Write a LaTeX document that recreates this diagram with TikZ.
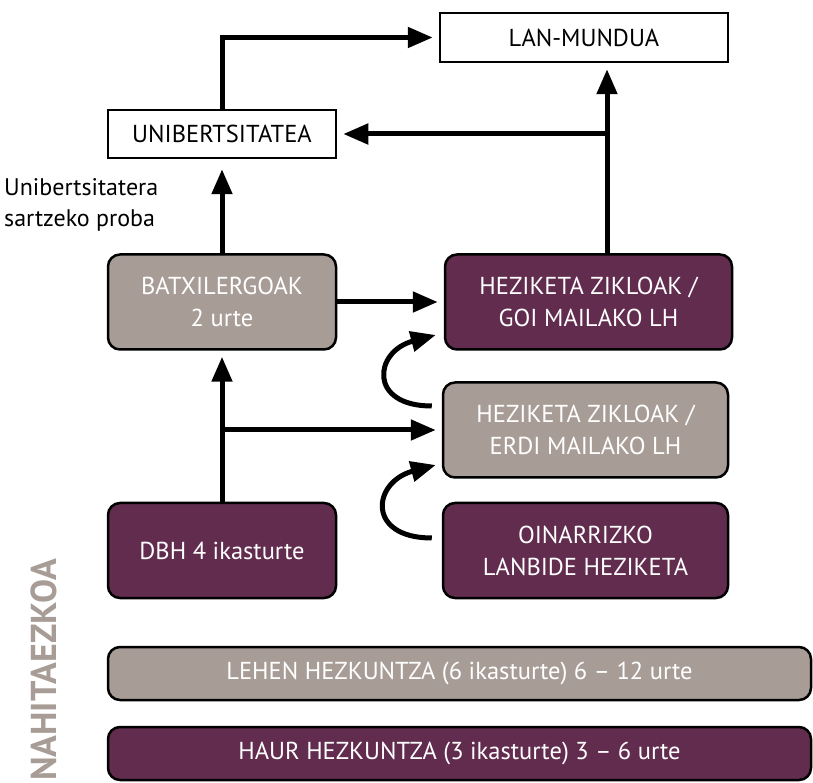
\documentclass[tikz,border=0pt]{standalone}
\usepackage{fontspec}
\setmainfont{PT Sans}
\usetikzlibrary{arrows.meta}
\definecolor{taupe}{RGB}{168,157,150}
\definecolor{plum}{RGB}{98,44,78}
\begin{document}
\begin{tikzpicture}[x=1pt, y=1pt,
    whitebox/.style={draw, line width=2.5pt, fill=white, inner sep=0pt, align=center, font=\fontsize{24.5}{32}\selectfont},
    graybox/.style={whitebox, rounded corners=12pt, fill=taupe, text=white},
    plumbox/.style={whitebox, rounded corners=12pt, fill=plum, text=white},
    arr/.style={line width=5pt, -{Triangle[length=25pt,width=20pt]}, shorten >=6pt}]
  \useasboundingbox (0,0) rectangle (813,782);
  % top row
  \node[whitebox, minimum width=288pt, minimum height=49pt] (lan) at (584,744.5) {LAN-MUNDUA};
  \node[whitebox, minimum width=228pt, minimum height=48pt] (uni) at (222,648) {UNIBERTSITATEA};
  \node[anchor=west, align=left, inner sep=0pt, font=\fontsize{24}{31}\selectfont] (proba) at (4,577) {Unibertsitatera\\sartzeko proba};
  % middle boxes
  \node[graybox, minimum width=228pt, minimum height=95pt] (batx) at (222,480) {BATXILERGOAK\\2 urte};
  \node[plumbox, minimum width=287pt, minimum height=95pt] (goi) at (588.5,480) {HEZIKETA ZIKLOAK /\\GOI MAILAKO LH};
  \node[graybox, minimum width=285pt, minimum height=95pt] (erdi) at (585.5,352) {HEZIKETA ZIKLOAK /\\ERDI MAILAKO LH};
  \node[plumbox, minimum width=285pt, minimum height=95pt] (oin) at (585.5,231.5) {OINARRIZKO\\LANBIDE HEZIKETA};
  \node[plumbox, minimum width=228pt, minimum height=95pt] (dbh) at (222,231.5) {DBH 4 ikasturte};
  % bottom bars
  \node[graybox, minimum width=703pt, minimum height=53pt] (lehen) at (459.5,108.5) {LEHEN HEZKUNTZA (6 ikasturte) 6 -- 12 urte};
  \node[plumbox, minimum width=703pt, minimum height=53pt] (haur) at (459.5,28.5) {HAUR HEZKUNTZA (3 ikasturte) 3 -- 6 urte};
  \node[rotate=90, text=taupe, inner sep=0pt, font=\fontsize{36}{40}\bfseries\selectfont] (nahi) at (44,112) {NAHITAEZKOA};
  % arrows
  \draw[arr] (uni.north) |- (lan.west);
  \draw[arr] ([xshift=18.5pt]goi.north) -- ([xshift=23pt]lan.south);
  \draw[arr] ([xshift=18.5pt]goi.north) |- (uni.east);
  \draw[arr, shorten >=10pt] (batx.north) -- (uni.south);
  \draw[arr] (batx.east) -- (goi.west);
  \draw[arr] (dbh.north) -- (batx.south);
  \draw[arr] (dbh.north) |- (erdi.west);
  \draw[arr, shorten >=0pt] ([shift={(-10,24)}]erdi.west) to[out=180, in=195, looseness=2.3] ([shift={(-8,-33)}]goi.west);
  \draw[arr, shorten >=0pt] ([shift={(-10,12.5)}]oin.west) to[out=180, in=195, looseness=2.3] ([shift={(-6,-35)}]erdi.west);
\end{tikzpicture}
\end{document}
